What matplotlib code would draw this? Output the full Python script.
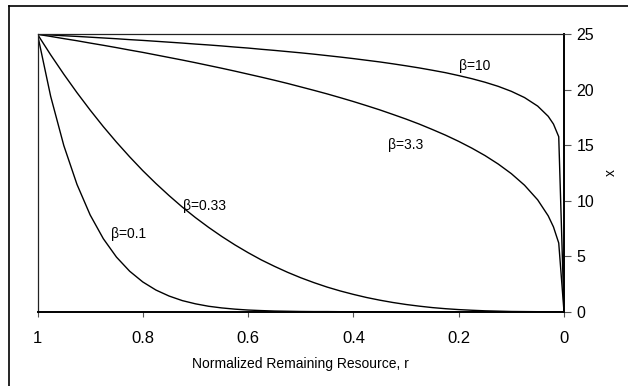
import numpy as np
import matplotlib
matplotlib.use("Agg")
import matplotlib.pyplot as plt
from matplotlib.lines import Line2D

# ----------
# DONNEES

r = [1.000, 0.975, 0.950, 0.925, 0.900, 0.875, 0.850, 0.825, 0.800, 0.775,
     0.750, 0.725, 0.700, 0.675, 0.650, 0.625, 0.600, 0.575, 0.550, 0.525,
     0.500, 0.475, 0.450, 0.425, 0.400, 0.375, 0.350, 0.325, 0.300, 0.275,
     0.250, 0.225, 0.200, 0.175, 0.150, 0.125, 0.100, 0.075, 0.050, 0.030,
     0.020, 0.010, 0.000]

x_b01 = [25.0, 19.41, 14.97, 11.47, 8.72, 6.58, 4.92, 3.65, 2.68, 1.95,
         1.41, 1.00, 0.71, 0.49, 0.34, 0.23, 0.15, 0.10, 0.06, 0.04,
         0.02, 0.01, 0.01, 0.0, 0.0, 0.0, 0.0, 0.0, 0.0, 0.0,
         0.0, 0.0, 0.0, 0.0, 0.0, 0.0, 0.0, 0.0, 0.0, 0.0,
         0.0, 0.0, 0.0]

x_b033 = [25.0, 23.15, 21.40, 19.74, 18.17, 16.68, 15.28, 13.96, 12.71, 11.55,
          10.46, 9.43, 8.48, 7.60, 6.78, 6.02, 5.32, 4.67, 4.09, 3.55,
          3.06, 2.62, 2.22, 1.87, 1.56, 1.28, 1.04, 0.83, 0.65, 0.50,
          0.37, 0.27, 0.19, 0.13, 0.08, 0.05, 0.02, 0.01, 0.0, 0.0,
          0.0, 0.0, 0.0]

x_b33 = [25.0, 24.81, 24.61, 24.42, 24.21, 24.01, 23.80, 23.58, 23.37, 23.14,
         22.91, 22.68, 22.44, 22.19, 21.94, 21.68, 21.41, 21.14, 20.86, 20.57,
         20.26, 19.95, 19.63, 19.29, 18.94, 18.57, 18.19, 17.78, 17.36, 16.91,
         16.42, 15.91, 15.35, 14.74, 14.07, 13.31, 12.44, 11.40, 10.08, 8.64,
         7.64, 6.19, 0.0]

x_b10 = [25.0, 24.94, 24.87, 24.81, 24.74, 24.67, 24.60, 24.52, 24.45, 24.37,
         24.29, 24.21, 24.12, 24.04, 23.95, 23.85, 23.76, 23.65, 23.55, 23.44,
         23.33, 23.21, 23.08, 22.95, 22.81, 22.66, 22.51, 22.34, 22.16, 21.97,
         21.76, 21.54, 21.28, 21.00, 20.68, 20.31, 19.86, 19.30, 18.53, 17.61,
         16.91, 15.77, 0.0]

series = [x_b01, x_b033, x_b33, x_b10]
etiquettes = ["β=0.1", "β=0.33", "β=3.3", "β=10"]
pos_etiq = [(0.861, 7.0), (0.724, 9.5), (0.334, 15.0), (0.199, 22.1)]

xticks = [1, 0.8, 0.6, 0.4, 0.2, 0]
xticklabels = ["1", "0.8", "0.6", "0.4", "0.2", "0"]
yticks = [0, 5, 10, 15, 20, 25]

# -------------------
# PROGRAMME PRINCIPAL

plt.rcParams['font.family'] = ['Liberation Sans', 'DejaVu Sans']

fig = plt.figure(figsize=(6.28, 3.86), dpi=100)
ax = fig.add_axes([37.5/628, 1-311.7/386, (564-37.5)/628, (311.7-34.3)/386])

for s in series:
    ax.plot(r, s, color='black', lw=1.0)

for txt, (px, py) in zip(etiquettes, pos_etiq):
    ax.text(px, py, txt, fontsize=10, ha='left', va='center')

ax.set_xlim(1, 0)
ax.set_ylim(0, 25)
ax.set_xticks(xticks)
ax.set_xticklabels(xticklabels)
ax.set_yticks(yticks)

ax.yaxis.tick_right()
ax.yaxis.set_label_position('right')
ax.tick_params(axis='x', direction='out', length=3.6, width=0.8, color='#555555',
               labelsize=12, pad=10.5)
ax.tick_params(axis='y', direction='out', length=5, width=0.8, color='#555555',
               labelsize=11.5, pad=4)

ax.set_xlabel("Normalized Remaining Resource, r", fontsize=10, labelpad=8)
ax.set_ylabel("x", fontsize=10, labelpad=7)

for cote in ['top', 'left']:
    ax.spines[cote].set_linewidth(0.9)
    ax.spines[cote].set_color('#222222')
for cote in ['right', 'bottom']:
    ax.spines[cote].set_linewidth(1.4)
    ax.spines[cote].set_color('black')

# cadre exterieur (coupé a droite et en bas)
fx = 9/628
fy = 1 - 6/386
fig.add_artist(Line2D([fx, 1.01], [fy, fy], color='black', lw=1.2))
fig.add_artist(Line2D([fx, fx], [fy, -0.01], color='black', lw=1.2))

fig.savefig("out.png", dpi=100)
